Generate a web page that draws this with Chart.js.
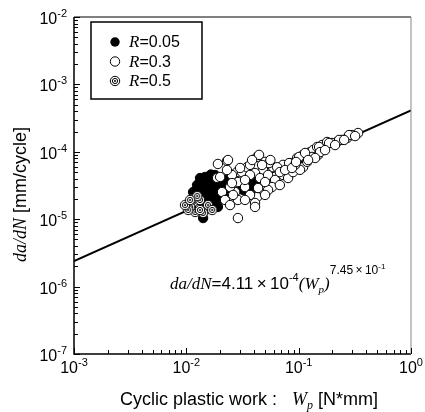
<!DOCTYPE html>
<html>
<head>
<meta charset="utf-8">
<script src="https://cdn.jsdelivr.net/npm/chart.js@4.4.1/dist/chart.umd.min.js"></script>
<style>
  html, body { margin: 0; padding: 0; background: #fff; }
  canvas { display: block; }
</style>
</head>
<body>
<canvas id="wpChart" width="425" height="412"></canvas>
<script>
// legend labels
var seriesLabels = ['0.05', '0.3', '0.5'];

// R=0.05 (filled)
var r005Points = [
  [0.0156,2.71e-5],[0.0141,2.45e-5],[0.018,3.44e-5],[0.0156,3.82e-5],[0.0127,1.74e-5],
  [0.0141,1.04e-5],[0.0191,1.52e-5],[0.0385,3.21e-5],[0.0347,3.44e-5],[0.0369,3.0e-5],
  [0.1028,5.94e-5],[0.106,6.3e-5],[0.017,4.23e-5],[0.0147,3.21e-5],[0.0132,2.71e-5],
  [0.012,2.13e-5],[0.0163,2.29e-5],[0.018,1.93e-5],[0.020,2.71e-5],[0.0208,3.56e-5],
  [0.0147,1.93e-5],[0.017,1.62e-5],[0.0132,3.56e-5],[0.0188,2.29e-5],[0.0221,3.0e-5],
  [0.0147,1.37e-5],[0.012,1.62e-5],[0.0385,2.8e-5],[0.0165,4.6e-5],[0.0195,4.0e-5],
  [0.01245,3.21e-5],[0.01324,4.08e-5],[0.01467,4.23e-5],[0.01626,4.08e-5],[0.0175,2.9e-5],
  [0.0191,3.21e-5],[0.0212,2.29e-5],[0.020,1.93e-5],[0.0163,1.62e-5],[0.01324,2.29e-5],
  [0.01148,2.53e-5],[0.0221,3.82e-5],[0.018,4.53e-5],[0.032,2.71e-5],[0.0409,3.44e-5],
  [0.107,6.37e-5]
];

// R=0.3 (open)
var r03Points = [
  [0.0191,6.6e-5],[0.0230,7.3e-5],[0.0188,4.1e-5],[0.0282,5.0e-5],[0.0313,5.0e-5],
  [0.0347,5.9e-5],[0.0369,6.4e-5],[0.0288,3.56e-5],[0.0272,2.53e-5],[0.0288,1.93e-5],
  [0.0288,1.04e-5],[0.0245,3.0e-5],[0.0208,2.53e-5],[0.0333,3.0e-5],[0.0427,8.4e-5],
  [0.0502,7.1e-5],[0.0482,5.4e-5],[0.0592,5.9e-5],[0.0656,5.75e-5],[0.0726,6.4e-5],
  [0.0838,6.8e-5],[0.0968,8.1e-5],[0.1094,9.0e-5],[0.1263,9.9e-5],[0.1343,1.06e-4],
  [0.1459,1.18e-4],[0.1614,1.26e-4],[0.179,1.40e-4],[0.0409,4.84e-5],[0.0453,4.08e-5],
  [0.0534,4.53e-5],[0.0617,3.82e-5],[0.0726,4.53e-5],[0.0805,4.08e-5],[0.0579,3.0e-5],
  [0.0482,2.71e-5],[0.0427,2.13e-5],[0.0409,1.74e-5],[0.0435,2.9e-5],[0.0891,5.0e-5],
  [0.1094,5.9e-5],[0.1189,7.1e-5],[0.1028,5.4e-5],[0.338,1.9e-4],[0.299,1.77e-4],
  [0.270,1.6e-4],[0.243,1.5e-4],[0.220,1.4e-4],[0.198,1.35e-4],[0.149,9.0e-5],
  [0.1315,8.4e-5],[0.0235,7.55e-5],[0.020,4.23e-5],[0.0409,1.52e-5],[0.0534,2.71e-5],
  [0.0444,9.0e-5],[0.0545,6.8e-5],[0.0643,5.9e-5],[0.0822,6.8e-5],[0.1009,8.4e-5],
  [0.114,9.6e-5],[0.152,1.18e-4],[0.1866,1.35e-4],[0.229,1.5e-4],[0.281,1.77e-4],
  [0.0221,1.93e-5],[0.0245,1.62e-5],[0.0261,2.29e-5],[0.0369,4.53e-5],[0.0333,3.82e-5],
  [0.0502,3.56e-5],[0.068,5.0e-5],[0.093,6.4e-5],
  [0.0255,4.53e-5],[0.0301,5.75e-5],[0.0385,7.55e-5],[0.0472,6.37e-5],[0.056,7.55e-5],
  [0.0757,5.37e-5],[0.0873,5.75e-5],[0.068,3.21e-5],[0.0502,2.29e-5],[0.0369,2.29e-5],
  [0.0333,1.93e-5],[0.0255,3.44e-5],[0.023,5.37e-5],[0.155,9.9e-5],[0.1718,1.06e-4],
  [0.140,8.09e-5],[0.1214,7.55e-5],[0.0948,7.06e-5],[0.211,1.26e-4],[0.254,1.5e-4],
  [0.318,1.71e-4]
];

// R=0.5 (double circle)
var r05Points = [
  [0.0118,1.8e-5],[0.0127,1.52e-5],[0.0147,1.37e-5],[0.012,1.28e-5],[0.0156,1.62e-5],
  [0.0141,1.24e-5],[0.0108,1.52e-5],[0.0132,1.93e-5],[0.0104,1.37e-5],[0.017,1.37e-5],
  [0.0112,2.0e-5],[0.0125,2.2e-5],[0.00973,1.62e-5],[0.0108,1.93e-5],[0.01324,1.37e-5]
];

// fit line da/dN = 4.11e-4 * Wp^0.745, end points
var fitX = [0.001, 1];
var fitY = [2.39e-6, 4.11e-4];

// tick exponents
var xTickExp = [-3, -2, -1, 0];
var yTickExp = [-7, -6, -5, -4, -3, -2];

var SANS = '"Liberation Sans", Arial, sans-serif';
var SERIF = '"Liberation Serif", "Times New Roman", serif';

function toXY(arr) {
    return arr.map(function(p){ return {x: p[0], y: p[1]}; });
}

// double circle marker for R=0.5
function ringMarker() {
    var c = document.createElement('canvas');
    c.width = 12; c.height = 12;
    var g = c.getContext('2d');
    g.fillStyle = '#fff'; g.strokeStyle = '#000'; g.lineWidth = 1;
    g.beginPath(); g.arc(6, 6, 4.7, 0, Math.PI * 2); g.fill(); g.stroke();
    g.beginPath(); g.arc(6, 6, 2.6, 0, Math.PI * 2); g.stroke();
    g.fillStyle = '#000';
    g.beginPath(); g.arc(6, 6, 1, 0, Math.PI * 2); g.fill();
    return c;
}
var ringImg = ringMarker();

// draw text made of pieces with different fonts / offsets
function drawRich(ctx, segs, x, y, align) {
    var total = 0;
    segs.forEach(function(s){ ctx.font = s.f; s.w = ctx.measureText(s.t).width; total += s.w; });
    var cx = x;
    if (align === 'center') cx = x - total / 2;
    if (align === 'right') cx = x - total;
    ctx.textAlign = 'left';
    ctx.textBaseline = 'alphabetic';
    segs.forEach(function(s){
        ctx.font = s.f;
        ctx.fillText(s.t, cx, y + (s.dy || 0));
        cx += s.w;
    });
}

function drawMarker(ctx, kind, px, py) {
    ctx.lineWidth = 1;
    ctx.strokeStyle = '#000';
    if (kind === 0) {
        ctx.fillStyle = '#000';
        ctx.beginPath(); ctx.arc(px, py, 4.7, 0, Math.PI * 2); ctx.fill();
    } else if (kind === 1) {
        ctx.fillStyle = '#fff';
        ctx.beginPath(); ctx.arc(px, py, 4.7, 0, Math.PI * 2); ctx.fill(); ctx.stroke();
    } else {
        ctx.drawImage(ringImg, px - 6, py - 6);
    }
}

var decor = {
    id: 'decor',
    afterDraw: function(chart) {
        var ctx = chart.ctx, a = chart.chartArea;
        var xs = chart.scales.x, ys = chart.scales.y;
        ctx.save();

        // frame
        ctx.strokeStyle = '#000';
        ctx.lineWidth = 1.5;
        ctx.beginPath();
        ctx.moveTo(a.left, a.top); ctx.lineTo(a.left, a.bottom); ctx.lineTo(a.right, a.bottom);
        ctx.stroke();
        ctx.lineWidth = 1;
        ctx.beginPath(); ctx.moveTo(a.left, a.top); ctx.lineTo(a.right, a.top); ctx.stroke();
        ctx.strokeStyle = '#888';
        ctx.beginPath(); ctx.moveTo(a.right, a.top); ctx.lineTo(a.right, a.bottom); ctx.stroke();

        // ticks
        ctx.strokeStyle = '#000';
        ctx.lineWidth = 1;
        ctx.beginPath();
        for (var e = -3; e <= 0; e++) {
            for (var m = 1; m <= 9; m++) {
                var v = m * Math.pow(10, e);
                if (v > 1.0001) break;
                var px = Math.round(xs.getPixelForValue(v)) + 0.5;
                var len = (m === 1) ? 6 : 4;
                ctx.moveTo(px, a.bottom); ctx.lineTo(px, a.bottom - len);
            }
        }
        for (var e2 = -7; e2 <= -2; e2++) {
            for (var m2 = 1; m2 <= 9; m2++) {
                var v2 = m2 * Math.pow(10, e2);
                if (v2 > 1.0001e-2) break;
                var py = Math.round(ys.getPixelForValue(v2)) + 0.5;
                var len2 = (m2 === 1) ? 6 : 4;
                ctx.moveTo(a.left, py); ctx.lineTo(a.left + len2, py);
            }
        }
        ctx.stroke();

        // tick labels
        ctx.fillStyle = '#000';
        xTickExp.forEach(function(e){
            var px = xs.getPixelForValue(Math.pow(10, e));
            drawRich(ctx, [
                {t: '10', f: '16px ' + SANS},
                {t: e < 0 ? '-' + (-e) : String(e), f: '11px ' + SANS, dy: -7}
            ], px, a.bottom + 19, 'center');
        });
        yTickExp.forEach(function(e){
            var py = ys.getPixelForValue(Math.pow(10, e));
            drawRich(ctx, [
                {t: '10', f: '16px ' + SANS},
                {t: '-' + (-e), f: '11px ' + SANS, dy: -7}
            ], a.left - 7, py + 7, 'right');
        });

        // x title
        drawRich(ctx, [
            {t: 'Cyclic plastic work :   ', f: '18px ' + SANS},
            {t: 'W', f: 'italic 18px ' + SERIF},
            {t: 'p', f: 'italic 12px ' + SERIF, dy: 4},
            {t: ' [N*mm]', f: '18px ' + SANS}
        ], 249, 405, 'center');

        // y title
        ctx.save();
        ctx.translate(26, (a.top + a.bottom) / 2 + 9);
        ctx.rotate(-Math.PI / 2);
        drawRich(ctx, [
            {t: 'da/dN', f: 'italic 18px ' + SERIF},
            {t: ' [mm/cycle]', f: '18px ' + SANS}
        ], 0, 0, 'center');
        ctx.restore();

        // fit equation
        drawRich(ctx, [
            {t: 'da/dN', f: 'italic 17px ' + SERIF},
            {t: '=4.11\u2009\u00d7\u200910', f: '17px ' + SANS},
            {t: '-4', f: '11px ' + SANS, dy: -8},
            {t: '(W', f: 'italic 17px ' + SERIF},
            {t: 'p', f: 'italic 11px ' + SERIF, dy: 4},
            {t: ')', f: 'italic 17px ' + SERIF},
            {t: '7.45\u2009\u00d7\u200910', f: '12px ' + SANS, dy: -15},
            {t: '-1', f: '8px ' + SANS, dy: -20}
        ], 170, 289, 'left');

        // legend box
        ctx.lineWidth = 1.5;
        ctx.strokeStyle = '#000';
        ctx.strokeRect(91, 22, 111, 77);
        seriesLabels.forEach(function(lab, i){
            var ry = 42 + i * 19.5;
            drawMarker(ctx, i, 115, ry);
            ctx.fillStyle = '#000';
            drawRich(ctx, [
                {t: 'R', f: 'italic 17px ' + SERIF},
                {t: '=' + lab, f: '16px ' + SANS}
            ], 129, ry + 5, 'left');
        });

        ctx.restore();
    }
};

var ctx = document.getElementById('wpChart').getContext('2d');
var chart = new Chart(ctx, {
    type: 'scatter',
    data: {
        datasets: [{
            label: 'R=0.05',
            data: toXY(r005Points),
            pointStyle: 'circle',
            pointRadius: 4.7,
            backgroundColor: '#000',
            borderColor: '#000',
            borderWidth: 1,
            order: 3
        }, {
            label: 'R=0.3',
            data: toXY(r03Points),
            pointStyle: 'circle',
            pointRadius: 4.7,
            backgroundColor: '#fff',
            borderColor: '#000',
            borderWidth: 1,
            order: 2
        }, {
            label: 'R=0.5',
            data: toXY(r05Points),
            pointStyle: ringImg,
            pointRadius: 5,
            order: 1
        }, {
            type: 'line',
            label: 'fit',
            data: fitX.map(function(v, i){ return {x: v, y: fitY[i]}; }),
            borderColor: '#000',
            borderWidth: 2,
            pointRadius: 0,
            showLine: true,
            fill: false,
            order: 4
        }]
    },
    options: {
        responsive: false,
        animation: false,
        devicePixelRatio: 1,
        layout: { padding: { left: 74, right: 14, top: 17, bottom: 58 } },
        plugins: {
            legend: { display: false },
            tooltip: { enabled: false }
        },
        scales: {
            x: {
                type: 'logarithmic',
                min: 1e-3, max: 1,
                ticks: { display: false },
                grid: { display: false, drawTicks: false },
                border: { display: false },
                afterFit: function(s){ s.height = 0; }
            },
            y: {
                type: 'logarithmic',
                min: 1e-7, max: 1e-2,
                ticks: { display: false },
                grid: { display: false, drawTicks: false },
                border: { display: false },
                afterFit: function(s){ s.width = 0; }
            }
        }
    },
    plugins: [decor]
});
</script>
</body>
</html>
